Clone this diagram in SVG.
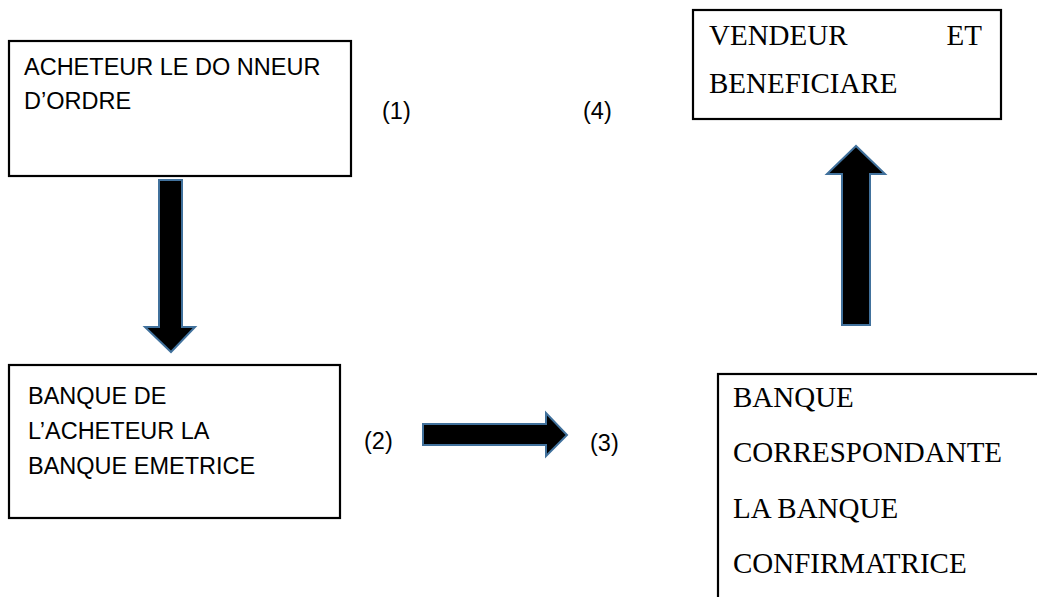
<svg xmlns="http://www.w3.org/2000/svg" width="1037" height="597" viewBox="0 0 1037 597">
  <style>
    .box { fill: #ffffff; stroke: #000000; stroke-width: 2.2; }
    .sans { font-family: "Liberation Sans", Arial, sans-serif; font-size: 23.5px; fill: #000000; }
    .serif { font-family: "Liberation Serif", "Times New Roman", serif; font-size: 29px; fill: #000000; }
    .arrow { fill: #000000; stroke: #41719c; stroke-width: 2; stroke-linejoin: miter; }
  </style>
  <rect width="1037" height="597" fill="#ffffff"/>

  <!-- Buyer / ordering party -->
  <g id="node-acheteur">
    <rect class="box" x="9" y="41" width="342" height="135"/>
    <text class="sans" x="24" y="75">ACHETEUR LE DO NNEUR</text>
    <text class="sans" x="24" y="109">D’ORDRE</text>
  </g>

  <!-- Issuing bank -->
  <g id="node-banque-emettrice">
    <rect class="box" x="9" y="365" width="331" height="153"/>
    <text class="sans" x="28" y="404">BANQUE DE</text>
    <text class="sans" x="28" y="439">L’ACHETEUR LA</text>
    <text class="sans" x="28" y="474">BANQUE EMETRICE</text>
  </g>

  <!-- Seller / beneficiary -->
  <g id="node-vendeur">
    <rect class="box" x="693" y="10" width="308" height="109"/>
    <text class="serif" x="709" y="45">VENDEUR</text>
    <text class="serif" x="982" y="45" text-anchor="end">ET</text>
    <text class="serif" x="709" y="93">BENEFICIARE</text>
  </g>

  <!-- Correspondent / confirming bank -->
  <g id="node-banque-confirmatrice">
    <rect class="box" x="718" y="374" width="400" height="300"/>
    <text class="serif" x="733" y="407">BANQUE</text>
    <text class="serif" x="733" y="462">CORRESPONDANTE</text>
    <text class="serif" x="733" y="518">LA BANQUE</text>
    <text class="serif" x="733" y="573">CONFIRMATRICE</text>
  </g>

  <!-- Step numbers -->
  <g id="labels">
    <text class="sans" x="382" y="119">(1)</text>
    <text class="sans" x="583" y="119">(4)</text>
    <text class="sans" x="364" y="449">(2)</text>
    <text class="sans" x="590" y="451">(3)</text>
  </g>

  <!-- Block arrows -->
  <g id="connectors">
    <polygon class="arrow" points="159,180 182,180 182,327 195,327 171,352 145,327 159,327"/>
    <polygon class="arrow" points="423,424 546,424 546,413 567,435 546,456 546,445 423,445"/>
    <polygon class="arrow" points="842,325 842,174 827,174 856,146 885,174 870,174 870,325"/>
  </g>
</svg>
